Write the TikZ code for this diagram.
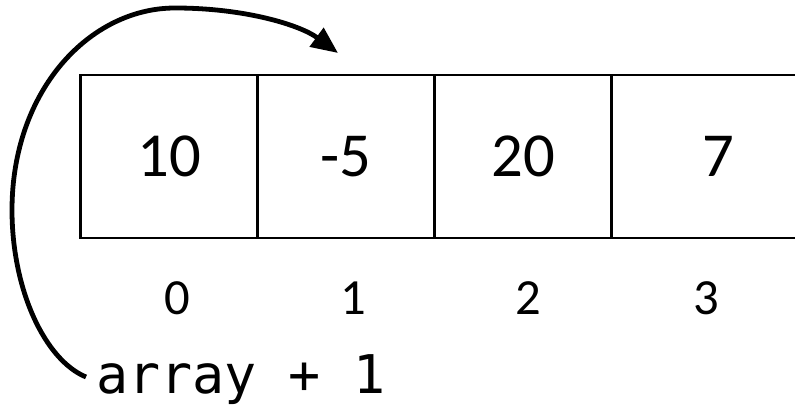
\documentclass[tikz,border=0pt]{standalone}
\usepackage{fontspec}
\setmainfont{Carlito}
\setmonofont{DejaVu Sans Mono}
\usetikzlibrary{positioning,arrows.meta}

\tikzset{
  cell/.style={draw, line width=2.2pt, outer sep=0pt, inner sep=0pt,
    minimum width=132.75pt, minimum height=122.25pt,
    font=\fontsize{47}{50}\selectfont},
  idx/.style={inner sep=0pt, font=\fontsize{38}{40}\selectfont},
}

\begin{document}
\begin{tikzpicture}[x=0.75pt,y=-0.75pt]
\clip (0,0) rectangle (795,409);

% --- cells of the array
\node[cell] (c0) at (169,156.5) {10};
\node[cell, right=0pt of c0] (c1) {-5};
\node[cell, right=0pt of c1] (c2) {20};
\node[cell, right=0pt of c2, minimum width=160pt, text width=132.75pt, align=center] (c3) {7};

% --- indices
\node[idx] (i0) at (177,298) {0};
\node[idx] (i1) at (353,298) {1};
\node[idx] (i2) at (528,298) {2};
\node[idx] (i3) at (706,298) {3};

% --- pointer expression
\node[inner sep=0pt, anchor=west, font=\ttfamily\fontsize{40}{42}\selectfont] (expr) at (96,380) {array + 1};
\coordinate (start) at ([shift={(-10,-3)}]expr.west);
\coordinate (tip) at (338,53);

\draw[line width=3.6pt, -{Triangle[length=20pt,width=17pt]}]
  (start) .. controls (45,360) and (12,290) .. (12,210)
  .. controls (12,90) and (90,8) .. (175,8)
  .. controls (245,8) and (300,25) .. (tip);

\end{tikzpicture}
\end{document}
